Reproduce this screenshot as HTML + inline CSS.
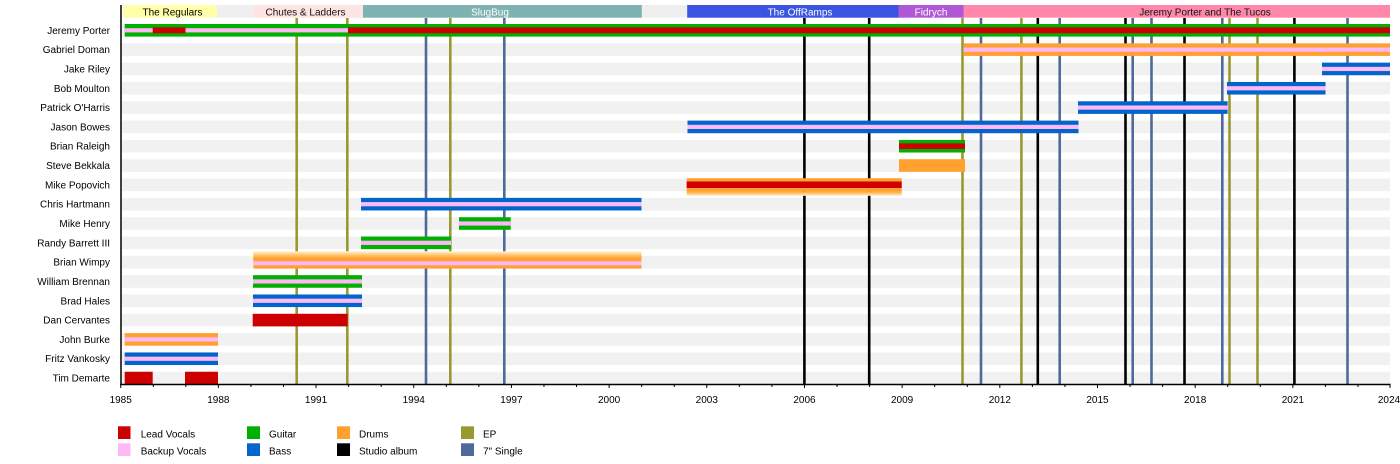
<!DOCTYPE html>
<html>
<head>
<meta charset="utf-8">
<style>
html,body{margin:0;padding:0;background:#fff;}
svg{display:block;}
text{font-family:"Liberation Sans",Arial,sans-serif;font-size:10px;}
</style>
</head>
<body>
<svg width="1400" height="464" viewBox="0 0 1400 464" xmlns="http://www.w3.org/2000/svg">
<defs>
  <linearGradient id="fadeUp" x1="0" y1="1" x2="0" y2="0">
    <stop offset="0" stop-color="#FFA030"/>
    <stop offset="0.5" stop-color="#FFC870"/>
    <stop offset="1" stop-color="#FFF4DC"/>
  </linearGradient>
  <linearGradient id="fadeDown" x1="0" y1="0" x2="0" y2="1">
    <stop offset="0" stop-color="#FFA030"/>
    <stop offset="0.5" stop-color="#FFC870"/>
    <stop offset="1" stop-color="#FFF4DC"/>
  </linearGradient>
</defs>
<rect width="1400" height="464" fill="#fff"/>

<!-- band row background -->
<rect x="123" y="5" width="1267" height="12.7" fill="#efefef"/>
<!-- bands -->
<rect x="123.3" y="5" width="93.7" height="12.7" fill="#FFFFAA"/>
<rect x="253" y="5" width="110" height="12.7" fill="#FFE4E4"/>
<rect x="363" y="5" width="278.8" height="12.7" fill="#7FB3B1"/>
<rect x="687.2" y="5" width="211.3" height="12.7" fill="#3A55E0"/>
<rect x="898.5" y="5" width="65.3" height="12.7" fill="#B057D6"/>
<rect x="963.8" y="5" width="426.2" height="12.7" fill="#FF88AA"/>
<text x="172.5" y="15.3" text-anchor="middle" fill="#000">The Regulars</text>
<text x="305.5" y="15.3" text-anchor="middle" fill="#111">Chutes &amp; Ladders</text>
<text x="490" y="15.3" text-anchor="middle" fill="#fff">SlugBug</text>
<text x="800" y="15.3" text-anchor="middle" fill="#fff">The OffRamps</text>
<text x="931" y="15.3" text-anchor="middle" fill="#fff">Fidrych</text>
<text x="1205" y="15.3" text-anchor="middle" fill="#111">Jeremy Porter and The Tucos</text>

<!-- row stripes -->
<g fill="#f1f1f1">
<rect x="122" y="24.0" width="1268" height="12.6"/>
<rect x="122" y="43.32" width="1268" height="12.6"/>
<rect x="122" y="62.64" width="1268" height="12.6"/>
<rect x="122" y="81.96" width="1268" height="12.6"/>
<rect x="122" y="101.28" width="1268" height="12.6"/>
<rect x="122" y="120.6" width="1268" height="12.6"/>
<rect x="122" y="139.92" width="1268" height="12.6"/>
<rect x="122" y="159.24" width="1268" height="12.6"/>
<rect x="122" y="178.56" width="1268" height="12.6"/>
<rect x="122" y="197.88" width="1268" height="12.6"/>
<rect x="122" y="217.2" width="1268" height="12.6"/>
<rect x="122" y="236.52" width="1268" height="12.6"/>
<rect x="122" y="255.84" width="1268" height="12.6"/>
<rect x="122" y="275.16" width="1268" height="12.6"/>
<rect x="122" y="294.48" width="1268" height="12.6"/>
<rect x="122" y="313.8" width="1268" height="12.6"/>
<rect x="122" y="333.12" width="1268" height="12.6"/>
<rect x="122" y="352.44" width="1268" height="12.6"/>
<rect x="122" y="371.76" width="1268" height="12.6"/>
</g>

<!-- event lines -->
<g stroke-width="2.6">
  <g stroke="#999933">
    <line x1="296.7" y1="18" x2="296.7" y2="384"/>
    <line x1="347.3" y1="18" x2="347.3" y2="384"/>
    <line x1="450.3" y1="18" x2="450.3" y2="384"/>
    <line x1="962.5" y1="18" x2="962.5" y2="384"/>
    <line x1="1021.4" y1="18" x2="1021.4" y2="384"/>
    <line x1="1229.5" y1="18" x2="1229.5" y2="384"/>
    <line x1="1257.5" y1="18" x2="1257.5" y2="384"/>
  </g>
  <g stroke="#4F6A9A">
    <line x1="426" y1="18" x2="426" y2="384"/>
    <line x1="504.3" y1="18" x2="504.3" y2="384"/>
    <line x1="981" y1="18" x2="981" y2="384"/>
    <line x1="1059.7" y1="18" x2="1059.7" y2="384"/>
    <line x1="1132.7" y1="18" x2="1132.7" y2="384"/>
    <line x1="1151.5" y1="18" x2="1151.5" y2="384"/>
    <line x1="1222.3" y1="18" x2="1222.3" y2="384"/>
    <line x1="1347.5" y1="18" x2="1347.5" y2="384"/>
  </g>
  <g stroke="#000">
    <line x1="804.4" y1="18" x2="804.4" y2="384"/>
    <line x1="869.2" y1="18" x2="869.2" y2="384"/>
    <line x1="1037.8" y1="18" x2="1037.8" y2="384"/>
    <line x1="1125.5" y1="18" x2="1125.5" y2="384"/>
    <line x1="1184.5" y1="18" x2="1184.5" y2="384"/>
    <line x1="1294.4" y1="18" x2="1294.4" y2="384"/>
  </g>
</g>

<!-- bars -->
<!-- 0 Jeremy Porter -->
<rect x="124.7" y="24.0" width="1265.3" height="12.6" fill="#00B000"/>
<rect x="124.7" y="28.2" width="223.3" height="4.2" fill="#FFB8F5"/>
<rect x="152.7" y="27.3" width="32.8" height="6" fill="#CC0000"/>
<rect x="348" y="27.3" width="1042" height="6" fill="#CC0000"/>
<!-- 1 Gabriel Doman -->
<rect x="963.5" y="43.32" width="426.5" height="12.6" fill="#FFA030"/>
<rect x="963.5" y="47.52" width="426.5" height="4.2" fill="#FFB8F5"/>
<!-- 2 Jake Riley -->
<rect x="1322" y="62.64" width="68" height="12.6" fill="#0066CC"/>
<rect x="1322" y="66.84" width="68" height="4.2" fill="#FFB8F5"/>
<!-- 3 Bob Moulton -->
<rect x="1227" y="81.96" width="98.5" height="12.6" fill="#0066CC"/>
<rect x="1227" y="86.16" width="98.5" height="4.2" fill="#FFB8F5"/>
<!-- 4 Patrick O'Harris -->
<rect x="1078" y="101.28" width="149.6" height="12.6" fill="#0066CC"/>
<rect x="1078" y="105.48" width="149.6" height="4.2" fill="#FFB8F5"/>
<!-- 5 Jason Bowes -->
<rect x="687.5" y="120.6" width="391" height="12.6" fill="#0066CC"/>
<rect x="687.5" y="124.8" width="391" height="4.2" fill="#FFB8F5"/>
<!-- 6 Brian Raleigh -->
<rect x="899" y="139.92" width="66" height="12.6" fill="#00B000"/>
<rect x="899" y="143.4" width="66" height="5.6" fill="#CC0000"/>
<!-- 7 Steve Bekkala -->
<rect x="899" y="159.24" width="66" height="12.6" fill="#FFA030"/>
<!-- 8 Mike Popovich -->
<rect x="686.7" y="178.2" width="215" height="13.2" fill="#FFA030"/>
<rect x="686.7" y="181.5" width="215" height="6.5" fill="#CC0000"/>
<rect x="686.7" y="191.3" width="215" height="4.5" fill="url(#fadeDown)"/>
<!-- 9 Chris Hartmann -->
<rect x="361" y="197.88" width="280.5" height="12.6" fill="#0066CC"/>
<rect x="361" y="202.08" width="280.5" height="4.2" fill="#FFB8F5"/>
<!-- 10 Mike Henry -->
<rect x="459" y="217.2" width="51.7" height="12.6" fill="#00B000"/>
<rect x="459" y="221.4" width="51.7" height="4.2" fill="#FFB8F5"/>
<!-- 11 Randy Barrett III -->
<rect x="361" y="236.52" width="90" height="12.6" fill="#00B000"/>
<rect x="361" y="240.72" width="90" height="4.2" fill="#FFB8F5"/>
<!-- 12 Brian Wimpy -->
<rect x="253.3" y="251.3" width="388.2" height="7" fill="url(#fadeUp)"/>
<rect x="253.3" y="258" width="388.2" height="10.6" fill="#FFA030"/>
<rect x="253.3" y="261.3" width="388.2" height="4" fill="#FFB8F5"/>
<!-- 13 William Brennan -->
<rect x="253" y="275.16" width="109" height="12.6" fill="#00B000"/>
<rect x="253" y="279.36" width="109" height="4.2" fill="#FFB8F5"/>
<!-- 14 Brad Hales -->
<rect x="253" y="294.48" width="109" height="12.6" fill="#0066CC"/>
<rect x="253" y="298.68" width="109" height="4.2" fill="#FFB8F5"/>
<!-- 15 Dan Cervantes -->
<rect x="252.7" y="313.8" width="95" height="12.6" fill="#CC0000"/>
<!-- 16 John Burke -->
<rect x="124.7" y="333.12" width="93.3" height="12.6" fill="#FFA030"/>
<rect x="124.7" y="337.32" width="93.3" height="4.2" fill="#FFB8F5"/>
<!-- 17 Fritz Vankosky -->
<rect x="124.7" y="352.44" width="93.3" height="12.6" fill="#0066CC"/>
<rect x="124.7" y="356.64" width="93.3" height="4.2" fill="#FFB8F5"/>
<!-- 18 Tim Demarte -->
<rect x="124.7" y="371.76" width="28" height="12.6" fill="#CC0000"/>
<rect x="185" y="371.76" width="33" height="12.6" fill="#CC0000"/>

<!-- axes -->
<line x1="121" y1="5" x2="121" y2="385" stroke="#000" stroke-width="1.5"/>
<line x1="120.3" y1="384.5" x2="1390.6" y2="384.5" stroke="#000" stroke-width="1.5"/>
<path stroke="#000" stroke-width="1" fill="none" d="
M120.7 384 v4 M153.26 384 v3 M185.82 384 v3 M218.38 384 v4 M250.94 384 v3 M283.5 384 v3
M316.06 384 v4 M348.62 384 v3 M381.18 384 v3 M413.74 384 v4 M446.3 384 v3 M478.86 384 v3
M511.42 384 v4 M543.98 384 v3 M576.54 384 v3 M609.1 384 v4 M641.66 384 v3 M674.22 384 v3
M706.78 384 v4 M739.34 384 v3 M771.9 384 v3 M804.46 384 v4 M837.02 384 v3 M869.58 384 v3
M902.14 384 v4 M934.7 384 v3 M967.26 384 v3 M999.82 384 v4 M1032.38 384 v3 M1064.94 384 v3
M1097.5 384 v4 M1130.06 384 v3 M1162.62 384 v3 M1195.18 384 v4 M1227.74 384 v3 M1260.3 384 v3
M1292.86 384 v4 M1325.42 384 v3 M1357.98 384 v3 M1390 384 v4"/>
<g fill="#000" text-anchor="middle">
<text x="120.7" y="403">1985</text>
<text x="218.38" y="403">1988</text>
<text x="316.06" y="403">1991</text>
<text x="413.74" y="403">1994</text>
<text x="511.42" y="403">1997</text>
<text x="609.1" y="403">2000</text>
<text x="706.78" y="403">2003</text>
<text x="804.46" y="403">2006</text>
<text x="902.14" y="403">2009</text>
<text x="999.82" y="403">2012</text>
<text x="1097.5" y="403">2015</text>
<text x="1195.18" y="403">2018</text>
<text x="1292.86" y="403">2021</text>
<text x="1389" y="403">2024</text>
</g>

<!-- row labels -->
<g fill="#000" text-anchor="end">
<text x="110" y="33.8">Jeremy Porter</text>
<text x="110" y="53.12">Gabriel Doman</text>
<text x="110" y="72.44">Jake Riley</text>
<text x="110" y="91.76">Bob Moulton</text>
<text x="110" y="111.08">Patrick O'Harris</text>
<text x="110" y="130.4">Jason Bowes</text>
<text x="110" y="149.72">Brian Raleigh</text>
<text x="110" y="169.04">Steve Bekkala</text>
<text x="110" y="188.36">Mike Popovich</text>
<text x="110" y="207.68">Chris Hartmann</text>
<text x="110" y="227.0">Mike Henry</text>
<text x="110" y="246.32">Randy Barrett III</text>
<text x="110" y="265.64">Brian Wimpy</text>
<text x="110" y="284.96">William Brennan</text>
<text x="110" y="304.28">Brad Hales</text>
<text x="110" y="323.6">Dan Cervantes</text>
<text x="110" y="342.92">John Burke</text>
<text x="110" y="362.24">Fritz Vankosky</text>
<text x="110" y="381.56">Tim Demarte</text>
</g>

<!-- legend -->
<rect x="118" y="426.3" width="12.5" height="12.7" fill="#CC0000"/>
<rect x="118" y="443.3" width="12.5" height="12.7" fill="#FFB8F5"/>
<rect x="247" y="426.3" width="13" height="12.7" fill="#00B000"/>
<rect x="247" y="443.3" width="13" height="12.7" fill="#0066CC"/>
<rect x="337" y="426.3" width="13" height="12.7" fill="#FFA030"/>
<rect x="337" y="443.3" width="13" height="12.7" fill="#000"/>
<rect x="461" y="426.3" width="13" height="12.7" fill="#999933"/>
<rect x="461" y="443.3" width="13" height="12.7" fill="#4F6A9A"/>
<g fill="#000">
<text x="140.7" y="437.6">Lead Vocals</text>
<text x="140.7" y="454.6">Backup Vocals</text>
<text x="269" y="437.6">Guitar</text>
<text x="269" y="454.6">Bass</text>
<text x="359" y="437.6">Drums</text>
<text x="359" y="454.6">Studio album</text>
<text x="483" y="437.6">EP</text>
<text x="483" y="454.6">7" Single</text>
</g>
</svg>
</body>
</html>
